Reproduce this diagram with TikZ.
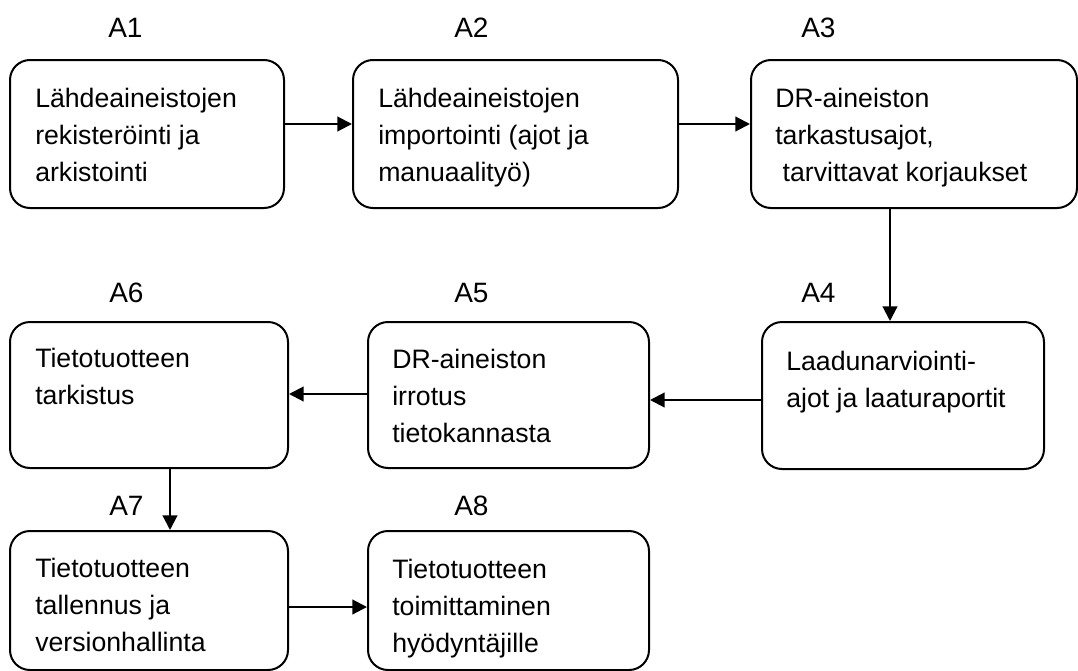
\documentclass[tikz,border=0pt]{standalone}
\usepackage{fontspec}
\setmainfont{Liberation Sans}
\usetikzlibrary{arrows.meta}

\newcommand\stagelines[1]{\begin{tabular}[t]{@{}l@{}}#1\end{tabular}}

\tikzset{
  stagebox/.style 2 args={draw, line width=1.5pt, rounded corners=15pt, anchor=north west, inner sep=0pt, minimum width=#1*0.75pt, minimum height=#2*0.75pt},
  stagetext/.style={anchor=base west, inner sep=0pt, font=\fontsize{20}{28}\selectfont},
  stagelabel/.style={anchor=base west, inner sep=0pt, font=\fontsize{21}{24}\selectfont},
  flow/.style={line width=1.6pt, -{Triangle[length=11pt,width=11pt]}}
}

\begin{document}
\begin{tikzpicture}[x=0.75pt,y=-0.75pt]
	\useasboundingbox (0,0) rectangle (1078,671);
	% boxes
	\node[stagebox={274}{148}] (a1) at (9,59) {};
	\node[stagebox={325}{148}] (a2) at (352,59) {};
	\node[stagebox={326}{148}] (a3) at (750,59) {};
	\node[stagebox={282}{147}] (a4) at (761,321) {};
	\node[stagebox={281}{146}] (a5) at (367,321) {};
	\node[stagebox={278}{146}] (a6) at (9,321) {};
	\node[stagebox={278}{139}] (a7) at (9,530) {};
	\node[stagebox={281}{139}] (a8) at (367,530) {};
	% labels
	\node[stagelabel] (l1) at (108,37) {A1};
	\node[stagelabel] (l2) at (454,37) {A2};
	\node[stagelabel] (l3) at (801,37) {A3};
	\node[stagelabel] (l4) at (801,302) {A4};
	\node[stagelabel] (l5) at (454,302) {A5};
	\node[stagelabel] (l6) at (109,302) {A6};
	\node[stagelabel] (l7) at (109,515) {A7};
	\node[stagelabel] (l8) at (454,515) {A8};
	% texts
	\node[stagetext] (t1) at (35,107) {\stagelines{Lähdeaineistojen\\rekisteröinti ja\\arkistointi}};
	\node[stagetext] (t2) at (378,107) {\stagelines{Lähdeaineistojen\\importointi (ajot ja\\manuaalityö)}};
	\node[stagetext] (t3) at (775,107) {\stagelines{DR-aineiston\\tarkastusajot,\\\ tarvittavat korjaukset}};
	\node[stagetext] (t4) at (786,370) {\stagelines{Laadunarviointi-\\ajot ja laaturaportit}};
	\node[stagetext] (t5) at (392,368) {\stagelines{DR-aineiston\\irrotus\\tietokannasta}};
	\node[stagetext] (t6) at (35,367) {\stagelines{Tietotuotteen\\tarkistus}};
	\node[stagetext] (t7) at (35,577) {\stagelines{Tietotuotteen\\tallennus ja\\versionhallinta}};
	\node[stagetext] (t8) at (392,578) {\stagelines{Tietotuotteen\\toimittaminen\\hyödyntäjille}};
	% arrows
	\draw[flow] (a1.east |- 0,124) -- (a2.west |- 0,124);
	\draw[flow] (a2.east |- 0,124) -- (a3.west |- 0,124);
	\draw[flow] (a3.south -| 890,0) -- (a4.north -| 890,0);
	\draw[flow] (a4.west |- 0,400) -- (a5.east |- 0,400);
	\draw[flow] (a5.west |- 0,394) -- (a6.east |- 0,394);
	\draw[flow] (a6.south -| 170,0) -- (a7.north -| 170,0);
	\draw[flow] (a7.east |- 0,607) -- (a8.west |- 0,607);
\end{tikzpicture}
\end{document}
